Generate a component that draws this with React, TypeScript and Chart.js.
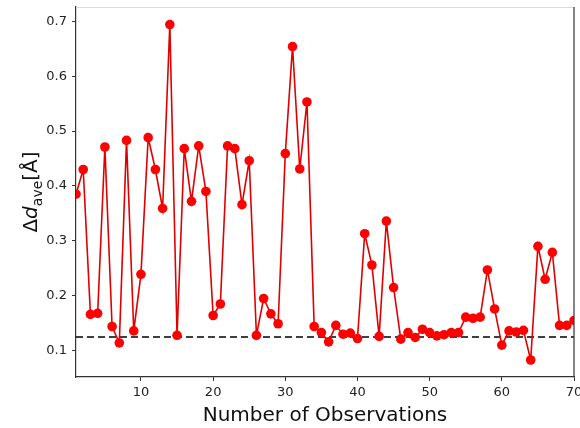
import React, { useEffect, useRef } from "react";
import { Chart, registerables } from "chart.js";

Chart.register(...registerables);

const observations: number[] = Array.from({ length: 70 }, (_, i) => i + 1);
const deltaD: number[] = [
  0.385, 0.430, 0.166, 0.168, 0.471, 0.144, 0.114, 0.483, 0.136, 0.239,
  0.488, 0.430, 0.359, 0.694, 0.128, 0.468, 0.372, 0.473, 0.390, 0.164,
  0.185, 0.473, 0.468, 0.366, 0.446, 0.128, 0.195, 0.167, 0.149, 0.459,
  0.654, 0.431, 0.553, 0.144, 0.133, 0.116, 0.146, 0.130, 0.132, 0.122,
  0.313, 0.256, 0.126, 0.336, 0.215, 0.121, 0.133, 0.124, 0.139, 0.133,
  0.127, 0.129, 0.133, 0.133, 0.161, 0.159, 0.161, 0.247, 0.176, 0.110,
  0.136, 0.134, 0.137, 0.083, 0.290, 0.230, 0.279, 0.146, 0.146, 0.155,
];
const thresholdValue = 0.125;
const xTicks: number[] = [10, 20, 30, 40, 50, 60, 70];
const yTicks: number[] = [0.1, 0.2, 0.3, 0.4, 0.5, 0.6, 0.7];
const xTitle = "Number of Observations";

const FONT = "'DejaVu Sans', sans-serif";

const titlesPlugin = {
  id: "titles",
  afterDraw(chart: any) {
    const ctx = chart.ctx;
    const area = chart.chartArea;
    ctx.save();
    // frame
    ctx.lineWidth = 1;
    ctx.strokeStyle = "#dcdcdc";
    ctx.beginPath();
    ctx.moveTo(area.left, area.top + 0.5);
    ctx.lineTo(area.right, area.top + 0.5);
    ctx.stroke();
    ctx.strokeStyle = "#333";
    ctx.lineWidth = 1.2;
    ctx.beginPath();
    ctx.moveTo(area.right, area.top);
    ctx.lineTo(area.right, area.bottom);
    ctx.stroke();

    // x title
    ctx.fillStyle = "#111";
    ctx.font = `20px ${FONT}`;
    ctx.textAlign = "center";
    ctx.textBaseline = "middle";
    ctx.fillText(xTitle, (area.left + area.right) / 2, 416);

    // y title with subscript
    ctx.translate(30, (area.top + area.bottom) / 2);
    ctx.rotate(-Math.PI / 2);
    const big = `20px ${FONT}`;
    const bigItalic = `italic 20px ${FONT}`;
    const small = `14px ${FONT}`;
    const parts = [
      { t: "Δ", f: big, dy: 0 },
      { t: "d", f: bigItalic, dy: 0 },
      { t: "ave", f: small, dy: 5 },
      { t: "[Å]", f: big, dy: 0 },
    ];
    let total = 0;
    for (const p of parts) {
      ctx.font = p.f;
      total += ctx.measureText(p.t).width;
    }
    let x = -total / 2;
    ctx.textAlign = "left";
    ctx.textBaseline = "alphabetic";
    for (const p of parts) {
      ctx.font = p.f;
      ctx.fillText(p.t, x, 7 + p.dy);
      x += ctx.measureText(p.t).width;
    }
    ctx.restore();
  },
};

export default function App() {
  const canvasRef = useRef<HTMLCanvasElement | null>(null);

  useEffect(() => {
    document.body.style.margin = "0";
    const canvas = canvasRef.current;
    if (!canvas) return;
    const chart = new Chart(canvas, {
      type: "line",
      data: {
        datasets: [
          {
            data: observations.map((x, i) => ({ x, y: deltaD[i] })),
            borderColor: "#e00000",
            backgroundColor: "#ff0000",
            borderWidth: 1.6,
            pointRadius: 4.8,
            pointBorderWidth: 0,
            pointBackgroundColor: "#ff0000",
            tension: 0,
            clip: 0,
          } as any,
          {
            data: [
              { x: observations[0], y: thresholdValue },
              { x: observations[observations.length - 1], y: thresholdValue },
            ],
            borderColor: "#000",
            borderWidth: 1.4,
            borderDash: [7, 4],
            pointRadius: 0,
            clip: 0,
          } as any,
        ],
      },
      options: {
        animation: false,
        responsive: false,
        devicePixelRatio: 1,
        layout: { padding: { top: 7, right: 6, left: 0, bottom: 0 } },
        plugins: {
          legend: { display: false },
          tooltip: { enabled: false },
        },
        scales: {
          x: {
            type: "linear",
            min: 1,
            max: 70,
            afterBuildTicks: (axis: any) => {
              axis.ticks = xTicks.map((v) => ({ value: v }));
            },
            afterFit: (scale: any) => {
              scale.height = 51;
              scale.paddingLeft = 0;
              scale.paddingRight = 0;
            },
            grid: {
              drawOnChartArea: false,
              drawTicks: true,
              tickLength: 4,
              color: "#333",
            },
            border: { display: true, color: "#333", width: 1.2 },
            ticks: {
              color: "#222",
              font: { family: FONT, size: 13 },
              padding: 4,
              maxRotation: 0,
              callback: (v: any) => String(v),
            },
          },
          y: {
            type: "linear",
            min: 0.052,
            max: 0.726,
            afterBuildTicks: (axis: any) => {
              axis.ticks = yTicks.map((v) => ({ value: v }));
            },
            afterFit: (scale: any) => {
              scale.width = 76;
              scale.paddingTop = 0;
              scale.paddingBottom = 0;
            },
            grid: {
              drawOnChartArea: false,
              drawTicks: true,
              tickLength: 4,
              color: "#333",
            },
            border: { display: true, color: "#333", width: 1.2 },
            ticks: {
              color: "#222",
              font: { family: FONT, size: 13 },
              padding: 5,
              callback: (v: any) => Number(v).toFixed(1),
            },
          },
        },
      },
      plugins: [titlesPlugin],
    });
    return () => chart.destroy();
  }, []);

  return (
    <div style={{ width: 580, height: 428, background: "#fff" }}>
      <canvas ref={canvasRef} width={580} height={428} />
    </div>
  );
}
